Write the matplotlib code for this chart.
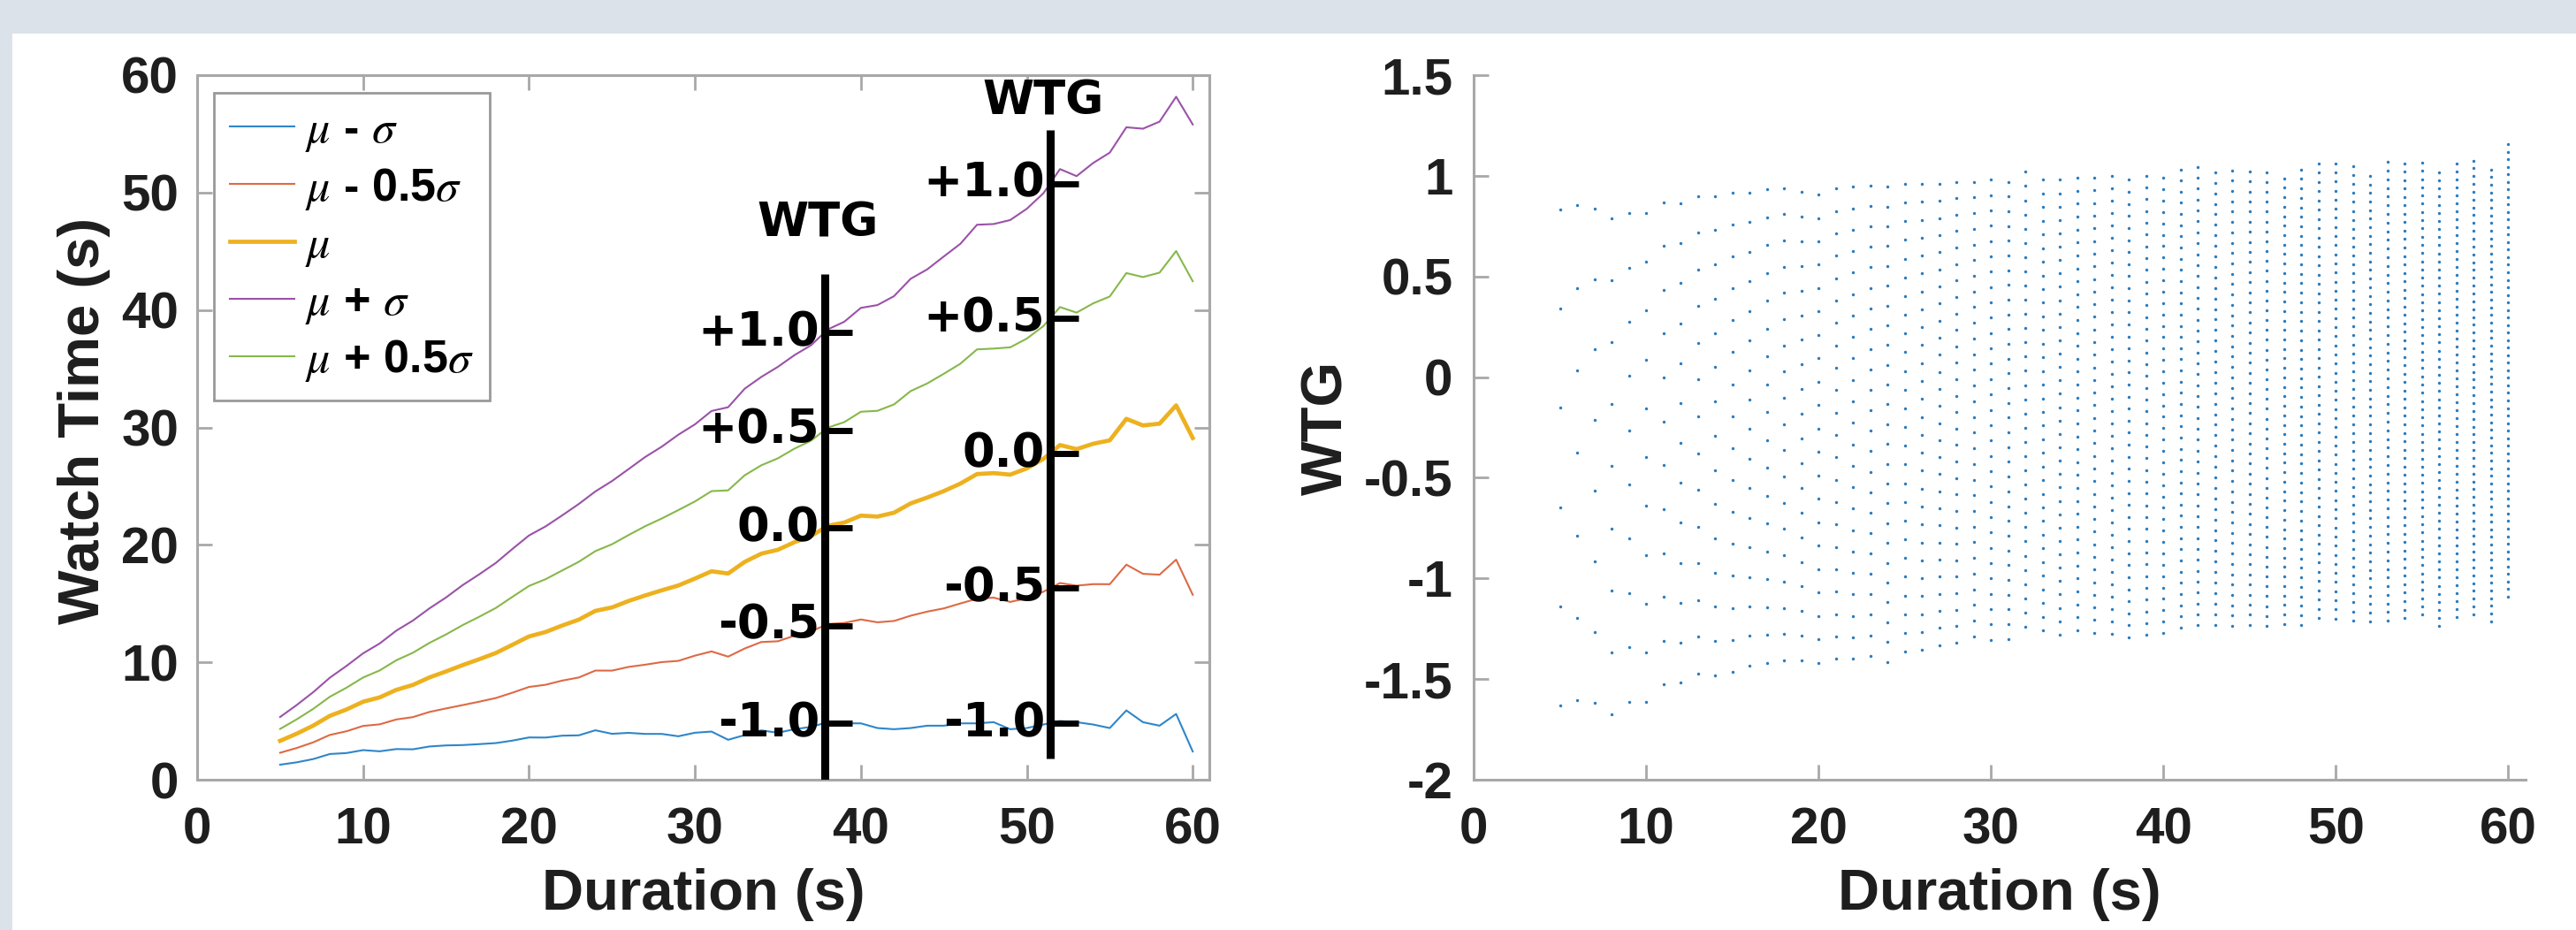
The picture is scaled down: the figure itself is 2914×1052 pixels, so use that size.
import matplotlib
matplotlib.use("Agg")
import matplotlib.pyplot as plt
from matplotlib.patches import Rectangle
import numpy as np

plt.rcParams["font.family"] = ["Liberation Sans", "DejaVu Sans"]
plt.rcParams["mathtext.fontset"] = "stix"

# video duration (s) and watch-time statistics
duration = np.arange(5, 61)
mu = np.array([3.31, 3.92, 4.61, 5.44, 5.98, 6.64, 7.01, 7.65, 8.07, 8.71,
               9.22, 9.76, 10.26, 10.79, 11.49, 12.20, 12.58, 13.13, 13.63, 14.38,
               14.67, 15.22, 15.69, 16.13, 16.54, 17.13, 17.75, 17.56, 18.55, 19.25,
               19.58, 20.23, 20.75, 21.62, 21.90, 22.49, 22.41, 22.74, 23.53, 24.03,
               24.58, 25.22, 26.03, 26.11, 25.98, 26.51, 27.32, 28.50, 28.15, 28.61,
               28.90, 30.73, 30.17, 30.32, 31.88, 29.10])
sigma = np.array([2.03, 2.44, 2.85, 3.25, 3.71, 4.12, 4.59, 5.04, 5.48, 5.88,
                  6.30, 6.81, 7.23, 7.67, 8.16, 8.60, 8.99, 9.38, 9.85, 10.17,
                  10.76, 11.23, 11.79, 12.23, 12.84, 13.13, 13.65, 14.16, 14.75, 15.05,
                  15.58, 15.93, 16.25, 16.72, 17.10, 17.69, 18.01, 18.44, 19.13, 19.43,
                  19.98, 20.42, 21.23, 21.21, 21.68, 22.11, 22.62, 23.50, 23.25, 23.91,
                  24.50, 24.83, 25.27, 25.72, 26.28, 26.70])

series_k = [-1.0, -0.5, 0.0, 1.0, 0.5]
series_labels = [r"$\mu$ - $\sigma$", r"$\mu$ - 0.5$\sigma$", r"$\mu$",
                 r"$\mu$ + $\sigma$", r"$\mu$ + 0.5$\sigma$"]
series_colors = ["#2f86c9", "#dd6a45", "#EDB120", "#9b52a8", "#86b84a"]
series_lw = [1.5, 1.5, 3.4, 1.5, 1.5]

# WTG reference axes drawn inside the left panel
wtg_axis_x = [37.8, 51.4]
wtg_axis_lo = [-1.3, -1.13]
wtg_axis_hi = [1.3, 1.2]
wtg_title_y = [47.4, 57.8]
wtg_ticks = [1.0, 0.5, 0.0, -0.5, -1.0]
wtg_tick_labels = ["+1.0", "+0.5", "0.0", "-0.5", "-1.0"]

spine_col = "#a8a8a8"
text_col = "#1e1e1e"

fig = plt.figure(figsize=(29.14, 10.52), dpi=100, facecolor="white")
fig.patches.append(Rectangle((0, 1 - 38 / 1052), 1, 38 / 1052, transform=fig.transFigure,
                             facecolor="#dce2ea", edgecolor="none", zorder=0))
fig.patches.append(Rectangle((0, 0), 14 / 2914, 1, transform=fig.transFigure,
                             facecolor="#dce2ea", edgecolor="none", zorder=0))

ax1 = fig.add_axes([223 / 2914, 170 / 1052, 1145 / 2914, 797 / 1052])
ax2 = fig.add_axes([1667 / 2914, 170 / 1052, 1190 / 2914, 797 / 1052])

# left panel: watch time curves
for k, lab, col, lw in zip(series_k, series_labels, series_colors, series_lw):
    ax1.plot(duration, mu + k * sigma, color=col, lw=lw, label=lab)

for xa, lo, hi, ty in zip(wtg_axis_x, wtg_axis_lo, wtg_axis_hi, wtg_title_y):
    m = np.interp(xa, duration, mu)
    s = np.interp(xa, duration, sigma)
    ax1.plot([xa, xa], [m + lo * s, m + hi * s], color="black", lw=6.5,
             solid_capstyle="butt", zorder=5)
    for t, tl in zip(wtg_ticks, wtg_tick_labels):
        yv = m + t * s
        ax1.plot([xa, xa + 1.7], [yv, yv], color="black", lw=5, solid_capstyle="butt", zorder=5)
        ax1.annotate(tl, (xa, yv), xytext=(-4, 0), textcoords="offset points",
                     ha="right", va="center", fontsize=38, fontweight="bold",
                     family="DejaVu Sans", color="black", zorder=6)
    ax1.text(xa - 0.4, ty, "WTG", ha="center", va="center", fontsize=38,
             fontweight="bold", family="DejaVu Sans", color="black", zorder=6)

ax1.set_xlim(0, 61)
ax1.set_ylim(0, 60)
ax1.set_xticks(np.arange(0, 61, 10))
ax1.set_yticks(np.arange(0, 61, 10))
ax1.set_xlabel("Duration (s)", fontsize=47, fontweight="bold", color=text_col)
ax1.set_ylabel("Watch Time (s)", fontsize=47, fontweight="bold", color=text_col)
ax1.tick_params(direction="in", length=12, width=2, colors=spine_col,
                labelcolor=text_col, labelsize=42, top=True, right=True)
ax1.tick_params(axis="x", pad=22)
ax1.tick_params(axis="y", pad=15)
for sp in ax1.spines.values():
    sp.set_color(spine_col)
    sp.set_linewidth(2.2)
for lab in ax1.get_xticklabels() + ax1.get_yticklabels():
    lab.set_fontweight("bold")

leg = ax1.legend(loc="upper left", bbox_to_anchor=(0.0166, 0.975), borderaxespad=0,
                 prop={"size": 37.5, "weight": "bold"}, handlelength=1.4,
                 handletextpad=0.22, labelspacing=0.26, borderpad=0.35,
                 fancybox=False, framealpha=1, edgecolor="#999999")
leg.get_frame().set_linewidth(2)

# right panel: WTG of every integer watch time for each duration
xs, ys = [], []
for d, m, s in zip(duration, mu, sigma):
    w = np.arange(d + 1)
    xs.append(np.full(w.size, d))
    ys.append((w - m) / s)
ax2.scatter(np.concatenate(xs), np.concatenate(ys), s=6, color="#2a7bbd", linewidths=0)

ax2.set_xlim(0, 61)
ax2.set_ylim(-2, 1.5)
ax2.set_xticks(np.arange(0, 61, 10))
ax2.set_yticks(np.arange(-2, 1.51, 0.5))
ax2.set_yticklabels(["-2", "-1.5", "-1", "-0.5", "0", "0.5", "1", "1.5"])
ax2.set_xlabel("Duration (s)", fontsize=47, fontweight="bold", color=text_col)
ax2.set_ylabel("WTG", fontsize=47, fontweight="bold", color=text_col)
ax2.tick_params(direction="in", length=12, width=2, colors=spine_col,
                labelcolor=text_col, labelsize=42)
ax2.tick_params(axis="x", pad=22)
ax2.tick_params(axis="y", pad=17)
ax2.spines["top"].set_visible(False)
ax2.spines["right"].set_visible(False)
for sp in ["left", "bottom"]:
    ax2.spines[sp].set_color(spine_col)
    ax2.spines[sp].set_linewidth(2.2)
for lab in ax2.get_xticklabels() + ax2.get_yticklabels():
    lab.set_fontweight("bold")

ax1.xaxis.set_label_coords(0.5, -0.163)
ax1.xaxis.label.set_verticalalignment("center")
ax1.yaxis.set_label_coords(-0.112, 0.51)
ax1.yaxis.label.set_verticalalignment("center")
ax2.xaxis.set_label_coords(0.5, -0.163)
ax2.xaxis.label.set_verticalalignment("center")
ax2.yaxis.set_label_coords(-0.139, 0.5)
ax2.yaxis.label.set_verticalalignment("center")

fig.savefig("out.png", dpi=100, facecolor=fig.get_facecolor())
